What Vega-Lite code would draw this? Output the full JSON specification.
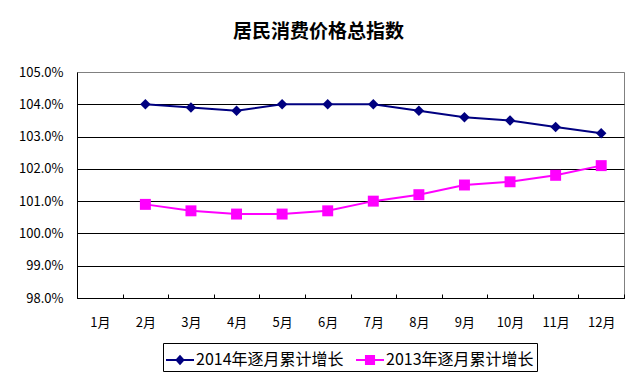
{
  "$schema": "https://vega.github.io/schema/vega-lite/v6.json",
  "width": 547,
  "height": 226,
  "autosize": {"type": "none"},
  "padding": {"left": 77, "top": 72, "right": 13, "bottom": 79},
  "background": "white",
  "config": {
    "font": "Noto Sans CJK SC",
    "view": {"stroke": "#808080", "strokeWidth": 1}
  },
  "title": {
    "text": "居民消费价格总指数",
    "fontSize": 19,
    "fontWeight": "bold",
    "font": "Noto Sans CJK SC",
    "color": "black",
    "anchor": "middle",
    "dx": -32,
    "offset": 24
  },
  "data": {
    "values": [
      {"month": "2月", "series": "2014年逐月累计增长", "value": 1.040},
      {"month": "3月", "series": "2014年逐月累计增长", "value": 1.039},
      {"month": "4月", "series": "2014年逐月累计增长", "value": 1.038},
      {"month": "5月", "series": "2014年逐月累计增长", "value": 1.040},
      {"month": "6月", "series": "2014年逐月累计增长", "value": 1.040},
      {"month": "7月", "series": "2014年逐月累计增长", "value": 1.040},
      {"month": "8月", "series": "2014年逐月累计增长", "value": 1.038},
      {"month": "9月", "series": "2014年逐月累计增长", "value": 1.036},
      {"month": "10月", "series": "2014年逐月累计增长", "value": 1.035},
      {"month": "11月", "series": "2014年逐月累计增长", "value": 1.033},
      {"month": "12月", "series": "2014年逐月累计增长", "value": 1.031},
      {"month": "2月", "series": "2013年逐月累计增长", "value": 1.009},
      {"month": "3月", "series": "2013年逐月累计增长", "value": 1.007},
      {"month": "4月", "series": "2013年逐月累计增长", "value": 1.006},
      {"month": "5月", "series": "2013年逐月累计增长", "value": 1.006},
      {"month": "6月", "series": "2013年逐月累计增长", "value": 1.007},
      {"month": "7月", "series": "2013年逐月累计增长", "value": 1.010},
      {"month": "8月", "series": "2013年逐月累计增长", "value": 1.012},
      {"month": "9月", "series": "2013年逐月累计增长", "value": 1.015},
      {"month": "10月", "series": "2013年逐月累计增长", "value": 1.016},
      {"month": "11月", "series": "2013年逐月累计增长", "value": 1.018},
      {"month": "12月", "series": "2013年逐月累计增长", "value": 1.021}
    ]
  },
  "encoding": {
    "x": {
      "field": "month",
      "type": "nominal",
      "sort": ["1月","2月","3月","4月","5月","6月","7月","8月","9月","10月","11月","12月"],
      "scale": {"domain": ["1月","2月","3月","4月","5月","6月","7月","8月","9月","10月","11月","12月"], "paddingInner": 0, "paddingOuter": 0},
      "axis": {
        "title": null,
        "labelAngle": 0,
        "labelFontSize": 13,
        "labelColor": "black",
        "labelPadding": 22,
        "domainColor": "black",
        "tickColor": "black",
        "tickSize": -4,
        "tickBand": "extent",
        "grid": false
      }
    },
    "y": {
      "field": "value",
      "type": "quantitative",
      "scale": {"domain": [0.98, 1.05], "nice": false, "zero": false},
      "axis": {
        "title": null,
        "format": ".1%",
        "values": [0.98, 0.99, 1.0, 1.01, 1.02, 1.03, 1.04, 1.05],
        "labelFontSize": 13,
        "labelColor": "black",
        "labelPadding": 14,
        "ticks": false,
        "domainColor": "black",
        "grid": true,
        "gridColor": {"condition": {"test": "datum.value >= 1.049", "value": "#808080"}, "value": "black"},
        "gridOpacity": 1
      }
    },
    "color": {
      "field": "series",
      "type": "nominal",
      "sort": ["2014年逐月累计增长", "2013年逐月累计增长"],
      "scale": {"domain": ["2014年逐月累计增长", "2013年逐月累计增长"], "range": ["#000080", "#FF00FF"]},
      "legend": {
        "title": null,
        "orient": "none",
        "legendX": 86,
        "legendY": 271,
        "direction": "horizontal",
        "strokeColor": "black",
        "padding": 3,
        "labelFontSize": 16,
        "labelColor": "black",
        "labelLimit": 300,
        "symbolSize": 784,
        "symbolOffset": 0,
        "labelOffset": 2,
        "columnPadding": 12,
        "encode": {
          "symbols": {
            "update": {
              "shape": {"signal": "datum.value === '2014年逐月累计增长' ? 'M-1,-0.07H1V0.07H-1Z M0,-0.38L0.34,0L0,0.38L-0.34,0Z' : 'M-1,-0.07H1V0.07H-1Z M-0.36,-0.36H0.36V0.36H-0.36Z'"},
              "fill": {"signal": "datum.value === '2014年逐月累计增长' ? '#000080' : '#FF00FF'"},
              "strokeWidth": {"value": 0},
              "opacity": {"value": 1}
            }
          }
        }
      }
    }
  },
  "layer": [
    {
      "mark": {"type": "line", "strokeWidth": 2}
    },
    {
      "transform": [{"filter": "datum.series === '2014年逐月累计增长'"}],
      "mark": {"type": "point", "filled": true, "opacity": 1, "shape": "diamond", "size": 110}
    },
    {
      "transform": [{"filter": "datum.series === '2013年逐月累计增长'"}],
      "mark": {"type": "point", "filled": true, "opacity": 1, "shape": "square", "size": 120}
    }
  ]
}
